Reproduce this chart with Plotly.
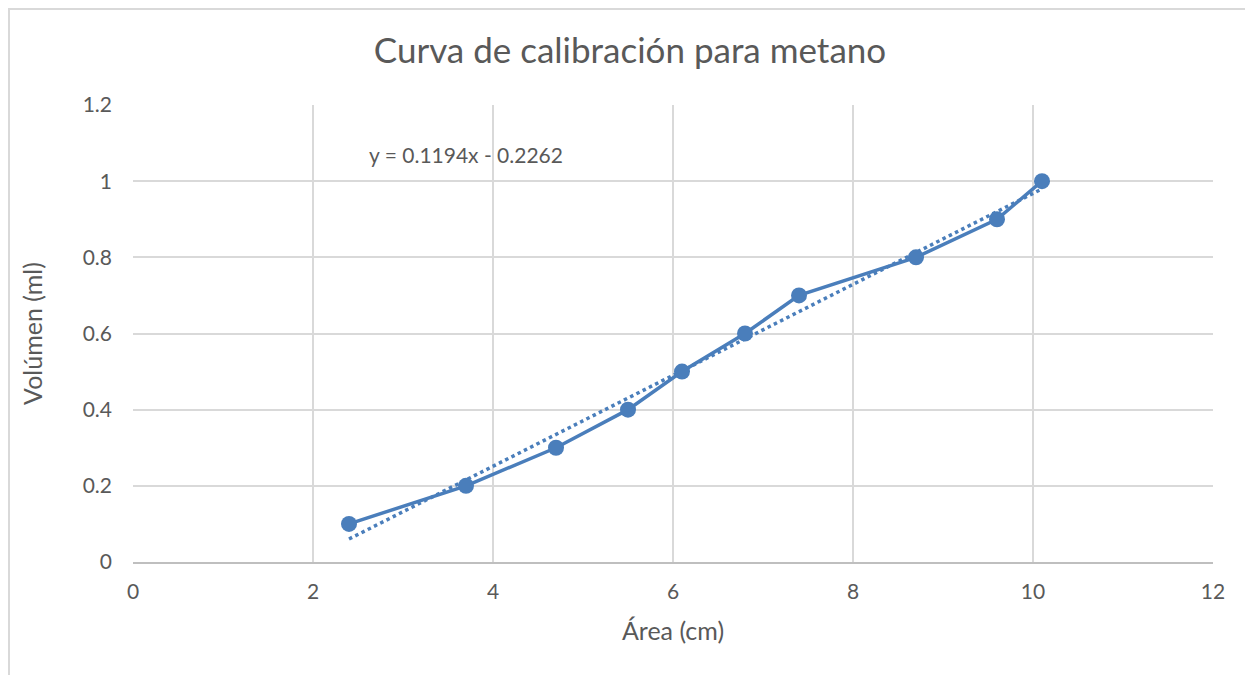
import plotly.graph_objects as go

area = [2.4, 3.7, 4.7, 5.5, 6.1, 6.8, 7.4, 8.7, 9.6, 10.1]
volumen = [0.1, 0.2, 0.3, 0.4, 0.5, 0.6, 0.7, 0.8, 0.9, 1.0]
slope = 0.1194
intercept = -0.2262
trend_x = [min(area), max(area)]
trend_y = [slope * x + intercept for x in trend_x]

blue = "#4a7ebb"
gray = "#595959"
font = "Lato"

W, H = 1245, 667
L, R, T, B = 125, 40, 97, 113
pw, ph = W - L - R, H - T - B

fig = go.Figure()
fig.add_trace(go.Scatter(x=trend_x, y=trend_y, mode="lines",
                         line=dict(color=blue, width=3.5, dash="dot"),
                         hoverinfo="skip", showlegend=False))
fig.add_trace(go.Scatter(x=area, y=volumen, mode="lines+markers",
                         line=dict(color=blue, width=3.5),
                         marker=dict(color=blue, size=16),
                         showlegend=False))

fig.add_annotation(x=2.6, y=1.07, xref="x", yref="y", xanchor="left",
                   text="y = 0.1194x - 0.2262", showarrow=False,
                   font=dict(family=font, size=21, color=gray))

fig.add_shape(type="rect", xref="paper", yref="paper",
              x0=-(L - 1) / pw, x1=1.2, y0=-1.25, y1=(ph + T - 1) / ph,
              line=dict(color="#d9d9d9", width=2), layer="below")

fig.update_layout(
    width=W, height=H,
    margin=dict(l=L, r=R, t=T, b=B),
    paper_bgcolor="white", plot_bgcolor="white",
    title=dict(text="Curva de calibración para metano", x=(630 - 8) / W, xanchor="center",
               y=1 - 43 / H, yanchor="middle",
               font=dict(family=font, size=35, color=gray)),
    font=dict(family=font, color=gray),
    xaxis=dict(range=[0, 12], dtick=2, showgrid=True, gridcolor="#d9d9d9", gridwidth=1.5,
               zeroline=False, showline=True, linecolor="#bfbfbf", linewidth=1.5,
               ticks="", tickfont=dict(size=21, color=gray), ticklabelstandoff=10,
               title=dict(text="Área (cm)", font=dict(size=25, color=gray), standoff=21)),
    yaxis=dict(range=[0, 1.2], dtick=0.2, showgrid=True, gridcolor="#d9d9d9", gridwidth=1.5,
               zeroline=False, showline=False,
               ticks="", tickfont=dict(size=21, color=gray), ticklabelstandoff=20,
               title=dict(text="Volúmen (ml)", font=dict(size=25, color=gray), standoff=32)),
)

fig.write_html("out.html")
